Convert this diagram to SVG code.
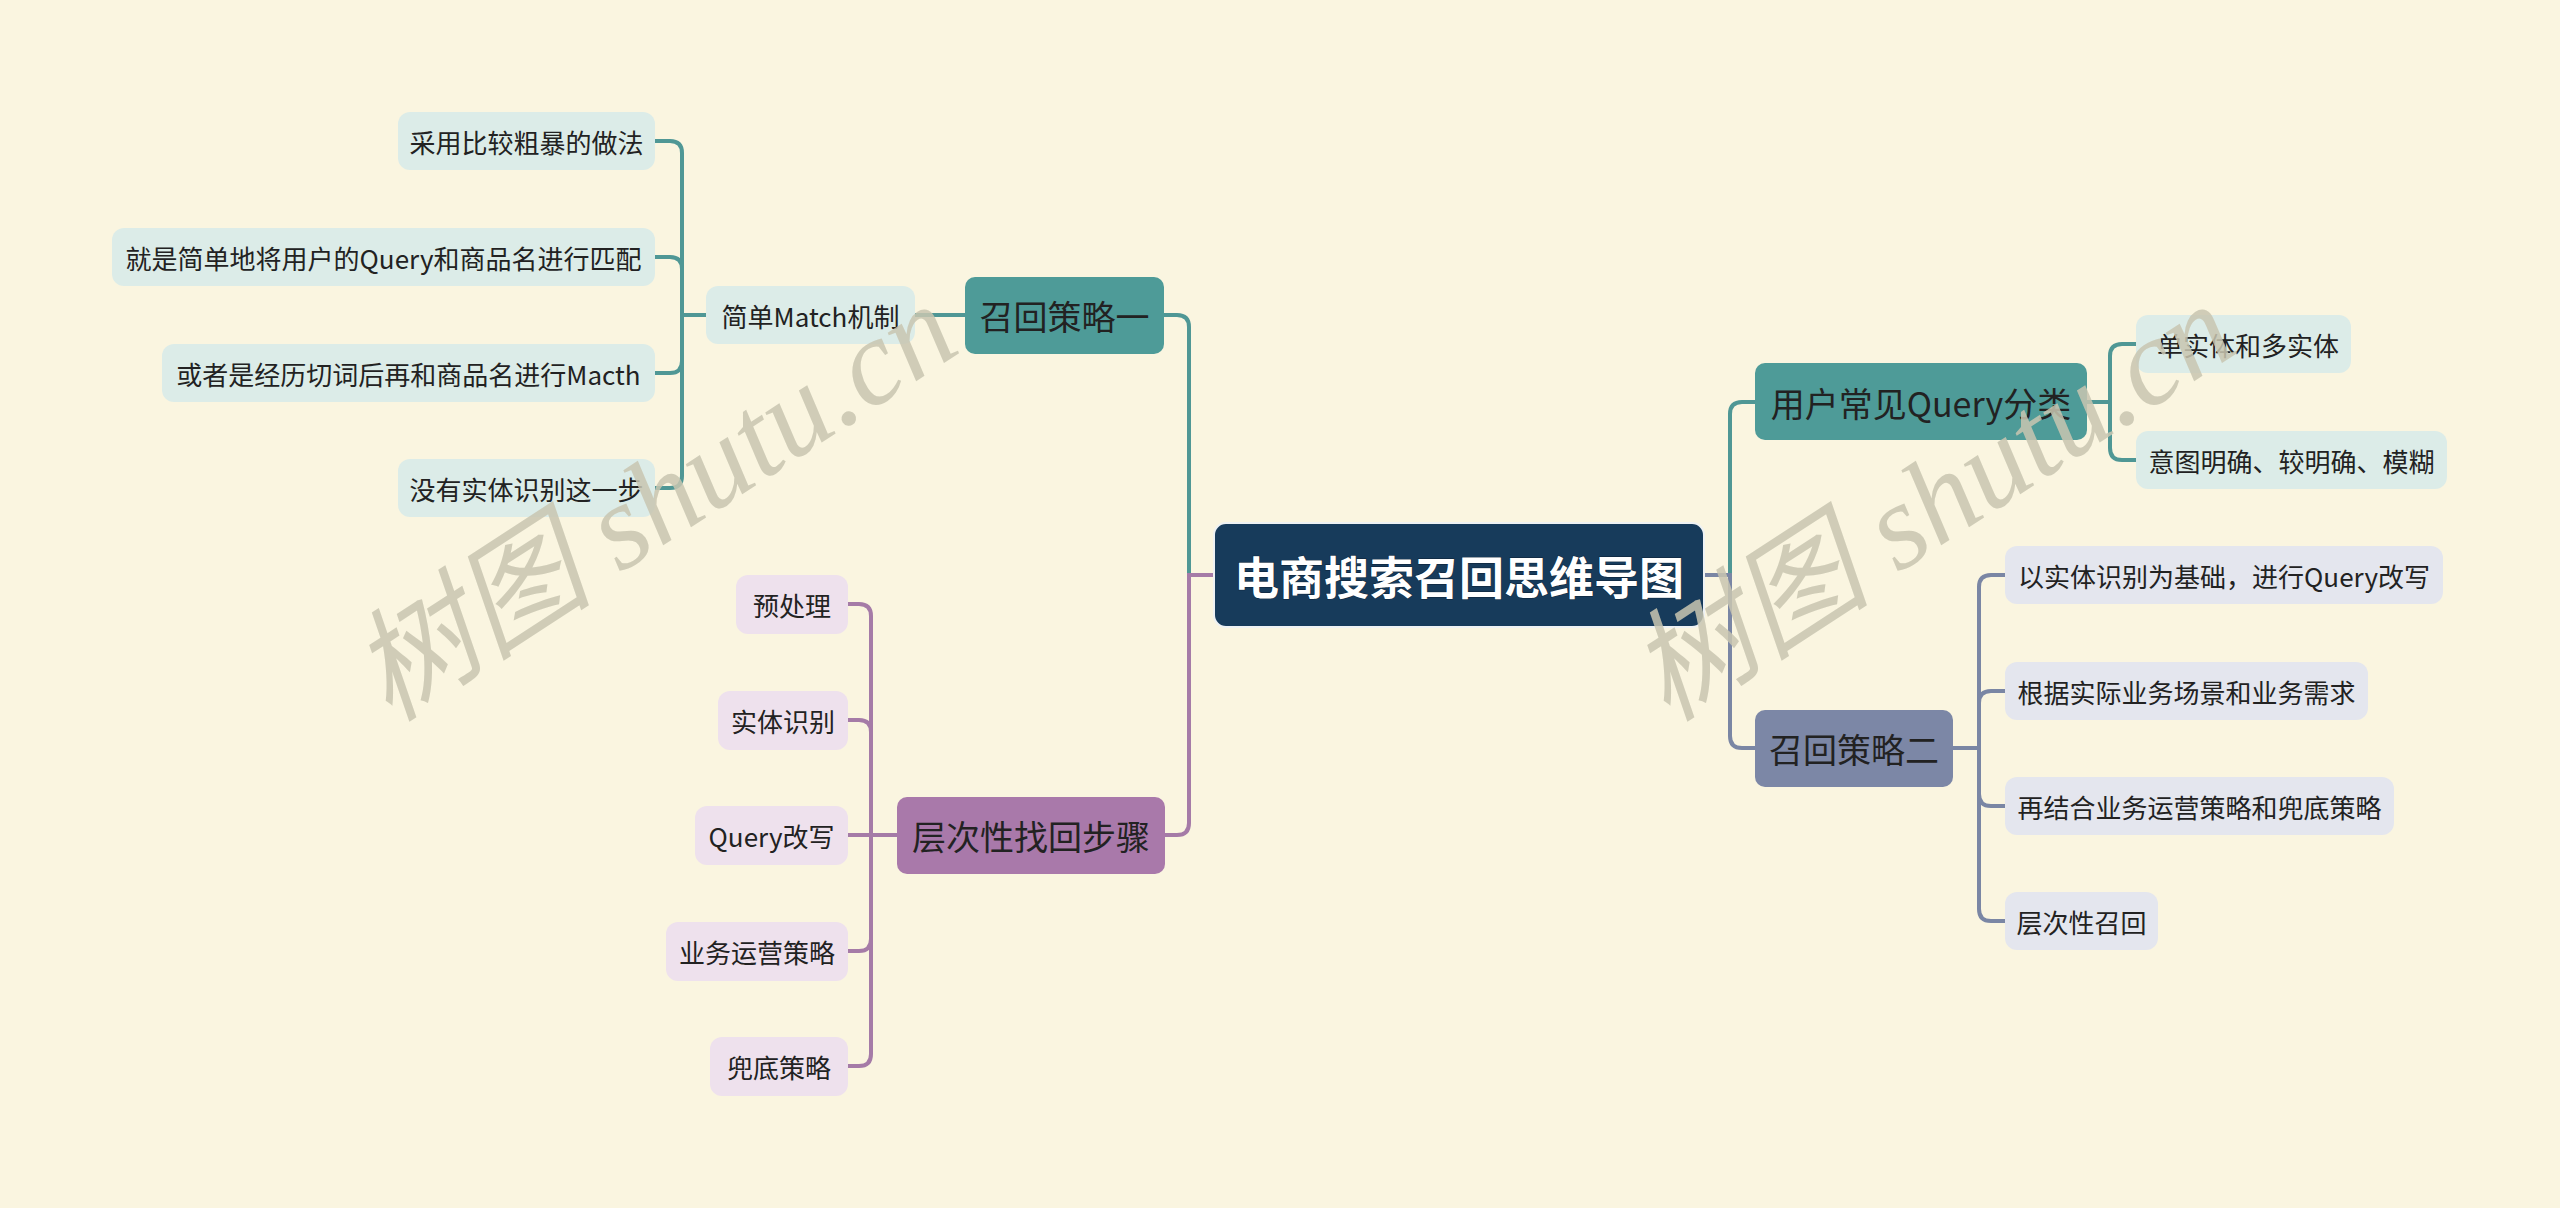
<svg xmlns="http://www.w3.org/2000/svg" width="2560" height="1208" viewBox="0 0 2560 1208">
<style>
text{font-family:"Noto Sans CJK SC","Noto Sans",sans-serif;text-anchor:middle;dominant-baseline:central;}
.c1{fill:none;stroke:#4f9795;stroke-width:4;}
.c2{fill:none;stroke:#a57ba7;stroke-width:4;}
.c3{fill:none;stroke:#7a86a4;stroke-width:4;}
.root{fill:#173b5b;stroke:#eef2f4;stroke-width:2;}
.rt{fill:#ffffff;font-size:45px;font-weight:bold;stroke:#0d2236;stroke-width:1;paint-order:stroke;}
.m1{fill:#4e9b98;}
.m2{fill:#a979aa;}
.m3{fill:#7c87a6;}
.mt{fill:#222;font-size:34px;}
.l1{fill:#dcece8;}
.l2{fill:#eee1ed;}
.l3{fill:#e4e6ee;}
.lt{fill:#222;font-size:26px;}
.wm{font-family:"Liberation Serif","Noto Sans CJK SC",serif;font-style:italic;font-size:122px;fill:#c9c6b1;opacity:0.85;}
</style>
<rect width="2560" height="1208" fill="#faf5e0"/>
<g id="connectors">
<path class="c1" d="M1214 575 H1189 V327 Q1189 315 1177 315 H1164"/>
<path class="c2" d="M1214 575 H1189 V823 Q1189 835 1177 835 H1164"/>
<path class="c1" d="M965 315 H915"/>
<path class="c1" d="M706 315 H682 V153 Q682 141 670 141 H655"/>
<path class="c1" d="M706 315 H682 V269 Q682 257 670 257 H655"/>
<path class="c1" d="M706 315 H682 V361 Q682 373 670 373 H655"/>
<path class="c1" d="M706 315 H682 V476 Q682 488 670 488 H655"/>
<path class="c2" d="M897 835 H871 V616 Q871 604 859 604 H848"/>
<path class="c2" d="M897 835 H871 V732 Q871 720 859 720 H848"/>
<path class="c2" d="M897 835 H848"/>
<path class="c2" d="M897 835 H871 V939 Q871 951 859 951 H848"/>
<path class="c2" d="M897 835 H871 V1054 Q871 1066 859 1066 H848"/>
<path class="c1" d="M1704 575 H1730 V414 Q1730 402 1742 402 H1755"/>
<path class="c3" d="M1704 575 H1730 V736 Q1730 748 1742 748 H1755"/>
<path class="c1" d="M2087 402 H2110 V356 Q2110 344 2122 344 H2136"/>
<path class="c1" d="M2087 402 H2110 V448 Q2110 460 2122 460 H2136"/>
<path class="c3" d="M1953 748 H1979 V587 Q1979 575 1991 575 H2005"/>
<path class="c3" d="M1953 748 H1979 V703 Q1979 691 1991 691 H2005"/>
<path class="c3" d="M1953 748 H1979 V794 Q1979 806 1991 806 H2005"/>
<path class="c3" d="M1953 748 H1979 V909 Q1979 921 1991 921 H2005"/>
</g>
<g id="root"><rect class="root" x="1214" y="523" width="490" height="104" rx="12"/><text class="rt" x="1459" y="575">电商搜索召回思维导图</text></g>
<g id="n-s1"><rect class="m1" x="965" y="277" width="199" height="77" rx="10"/><text class="mt" x="1064.5" y="315">召回策略一</text></g>
<g id="n-match"><rect class="l1" x="706" y="286" width="209" height="58" rx="12"/><text class="lt" x="810.5" y="315">简单Match机制</text></g>
<g id="n-a1"><rect class="l1" x="398" y="112" width="257" height="58" rx="12"/><text class="lt" x="526.5" y="141">采用比较粗暴的做法</text></g>
<g id="n-a2"><rect class="l1" x="112" y="228" width="543" height="58" rx="12"/><text class="lt" x="383.5" y="257">就是简单地将用户的Query和商品名进行匹配</text></g>
<g id="n-a3"><rect class="l1" x="162" y="344" width="493" height="58" rx="12"/><text class="lt" x="408.5" y="373">或者是经历切词后再和商品名进行Macth</text></g>
<g id="n-a4"><rect class="l1" x="398" y="459" width="257" height="58" rx="12"/><text class="lt" x="526.5" y="488">没有实体识别这一步</text></g>
<g id="n-steps"><rect class="m2" x="897" y="797" width="268" height="77" rx="10"/><text class="mt" x="1031" y="835">层次性找回步骤</text></g>
<g id="n-b1"><rect class="l2" x="736" y="575" width="112" height="59" rx="12"/><text class="lt" x="792" y="604">预处理</text></g>
<g id="n-b2"><rect class="l2" x="718" y="691" width="130" height="59" rx="12"/><text class="lt" x="783" y="720">实体识别</text></g>
<g id="n-b3"><rect class="l2" x="695" y="806" width="153" height="59" rx="12"/><text class="lt" x="771.5" y="835">Query改写</text></g>
<g id="n-b4"><rect class="l2" x="666" y="922" width="182" height="59" rx="12"/><text class="lt" x="757" y="951">业务运营策略</text></g>
<g id="n-b5"><rect class="l2" x="710" y="1037" width="138" height="59" rx="12"/><text class="lt" x="779" y="1066">兜底策略</text></g>
<g id="n-q"><rect class="m1" x="1755" y="363" width="332" height="77" rx="10"/><text class="mt" x="1921" y="402">用户常见Query分类</text></g>
<g id="n-q1"><rect class="l1" x="2136" y="315" width="215" height="58" rx="12"/><text class="lt" x="2248" y="344">单实体和多实体</text></g>
<g id="n-q2"><rect class="l1" x="2136" y="431" width="311" height="58" rx="12"/><text class="lt" x="2291.5" y="460">意图明确、较明确、模糊</text></g>
<g id="n-s2"><rect class="m3" x="1755" y="710" width="198" height="77" rx="10"/><text class="mt" x="1854" y="748">召回策略二</text></g>
<g id="n-c1"><rect class="l3" x="2005" y="546" width="438" height="58" rx="12"/><text class="lt" x="2224" y="575">以实体识别为基础，进行Query改写</text></g>
<g id="n-c2"><rect class="l3" x="2005" y="662" width="363" height="58" rx="12"/><text class="lt" x="2186.5" y="691">根据实际业务场景和业务需求</text></g>
<g id="n-c3"><rect class="l3" x="2005" y="777" width="389" height="58" rx="12"/><text class="lt" x="2199.5" y="806">再结合业务运营策略和兜底策略</text></g>
<g id="n-c4"><rect class="l3" x="2005" y="892" width="153" height="58" rx="12"/><text class="lt" x="2081.5" y="921">层次性召回</text></g>
<g id="watermarks">
<text class="wm" x="654" y="502" transform="rotate(-33 654 502)">树图 shutu.cn</text>
<text class="wm" x="1932" y="502" transform="rotate(-33 1932 502)">树图 shutu.cn</text>
</g>
</svg>
